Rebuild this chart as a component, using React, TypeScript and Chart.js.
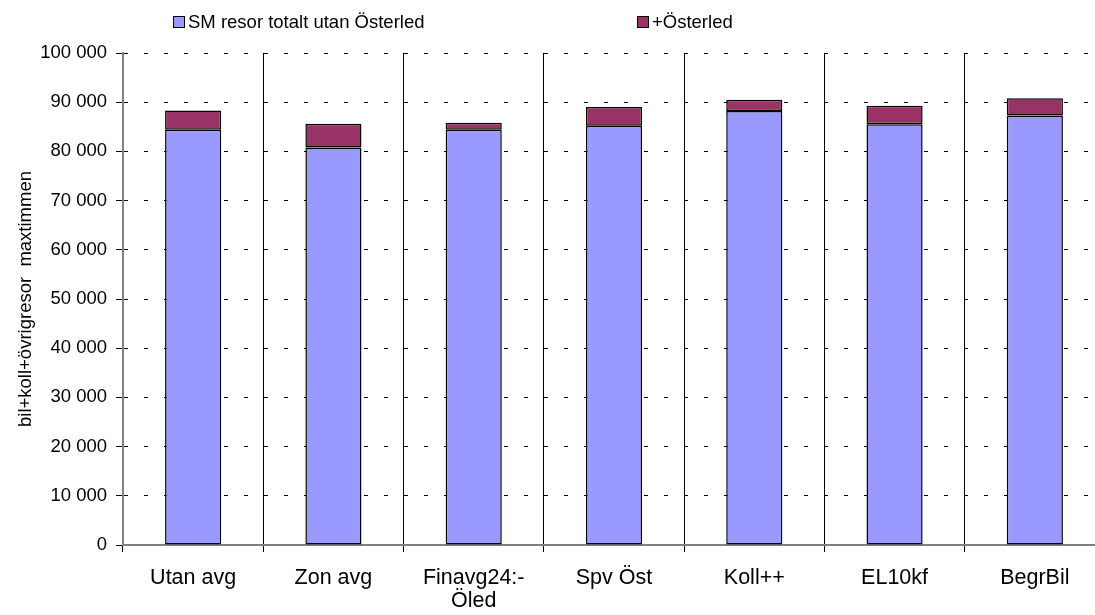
import React, { useEffect, useRef } from "react";
import { Chart, registerables } from "chart.js";

Chart.register(...registerables);

const categories: (string | string[])[] = [
  "Utan avg",
  "Zon avg",
  ["Finavg24:-", "Öled"],
  "Spv Öst",
  "Koll++",
  "EL10kf",
  "BegrBil",
];
const baseValues = [84400, 80800, 84400, 85200, 88200, 85500, 87300];
const osterledValues = [3900, 4800, 1400, 3800, 2300, 3800, 3500];
const seriesLabels = ["SM resor totalt utan Österled", "+Österled"];
const yAxisTitle = "bil+koll+övrigresor  maxtimmen";
const yMin = 0;
const yMax = 100000;
const yStep = 10000;

const FONT = '"Liberation Sans", Arial, sans-serif';

const legendPlugin = {
  id: "customLegend",
  afterDraw(chart: any, _args: any, opts: any) {
    const ctx = chart.ctx as CanvasRenderingContext2D;
    chart.data.datasets.forEach((ds: any, i: number) => {
      const x = opts.xs[i];
      const y = opts.y;
      const s = opts.box;
      ctx.save();
      ctx.fillStyle = ds.backgroundColor;
      ctx.fillRect(x, y - s / 2, s, s);
      ctx.strokeStyle = "#000";
      ctx.lineWidth = 1;
      ctx.strokeRect(x + 0.5, y - s / 2 + 0.5, s - 1, s - 1);
      ctx.fillStyle = "#000";
      ctx.font = `${opts.fontSize}px ${FONT}`;
      ctx.textBaseline = "middle";
      ctx.textAlign = "left";
      ctx.fillText(ds.label, x + s + 3, y + 1);
      ctx.restore();
    });
  },
};

const fmt = (v: number) => String(v).replace(/\B(?=(\d{3})+(?!\d))/g, " ");

export default function App() {
  const ref = useRef<HTMLCanvasElement>(null);
  useEffect(() => {
    if (!ref.current) return;
    const chart = new Chart(ref.current, {
      type: "bar",
      data: {
        labels: categories,
        datasets: [
          {
            label: seriesLabels[0],
            data: baseValues,
            backgroundColor: "#9999FF",
            borderColor: "#000",
            borderWidth: 1.5,
            borderSkipped: false,
          },
          {
            label: seriesLabels[1],
            data: osterledValues,
            backgroundColor: "#993366",
            borderColor: "#000",
            borderWidth: 1.5,
            borderSkipped: false,
          },
        ],
      },
      options: {
        animation: false,
        responsive: false,
        devicePixelRatio: 1,
        layout: { padding: { top: 53, right: 15, left: 0, bottom: 0 } },
        datasets: { bar: { barPercentage: 0.4, categoryPercentage: 1.0 } },
        plugins: {
          legend: { display: false },
          tooltip: { enabled: false },
          customLegend: { xs: [173, 637], y: 22, box: 12, fontSize: 18.5 },
        } as any,
        scales: {
          x: {
            stacked: true,
            offset: true,
            grid: {
              offset: true,
              color: "#000",
              lineWidth: 1,
              tickLength: 7,
              tickColor: "#000",
            },
            border: { color: "#808080", width: 2 },
            ticks: {
              color: "#000",
              font: { family: FONT, size: 21.5, lineHeight: 1.05 },
              padding: 15,
              maxRotation: 0,
              autoSkip: false,
            },
            afterFit: (s: any) => {
              s.height = 70;
            },
          },
          y: {
            stacked: true,
            min: yMin,
            max: yMax,
            grid: {
              color: "#000",
              lineWidth: 1,
              tickLength: 7,
              tickColor: "#000",
              tickBorderDash: [],
            } as any,
            border: { color: "#808080", width: 2, dash: [4, 16] } as any,
            ticks: {
              stepSize: yStep,
              color: "#000",
              font: { family: FONT, size: 18.5 },
              padding: 9,
              callback: (v: any) => fmt(Number(v)),
            },
            title: {
              display: true,
              text: yAxisTitle,
              color: "#000",
              font: { family: FONT, size: 18.5, lineHeight: 1.2 },
              padding: { top: 15, bottom: 0 },
            },
            afterFit: (s: any) => {
              s.width = 123;
            },
          },
        },
      },
      plugins: [legendPlugin],
    });
    return () => chart.destroy();
  }, []);
  return (
    <div
      style={{
        position: "fixed",
        left: 0,
        top: 0,
        width: 1095,
        height: 615,
        overflow: "hidden",
        background: "#fff",
      }}
    >
      <canvas ref={ref} width={1120} height={615} style={{ display: "block" }} />
    </div>
  );
}
